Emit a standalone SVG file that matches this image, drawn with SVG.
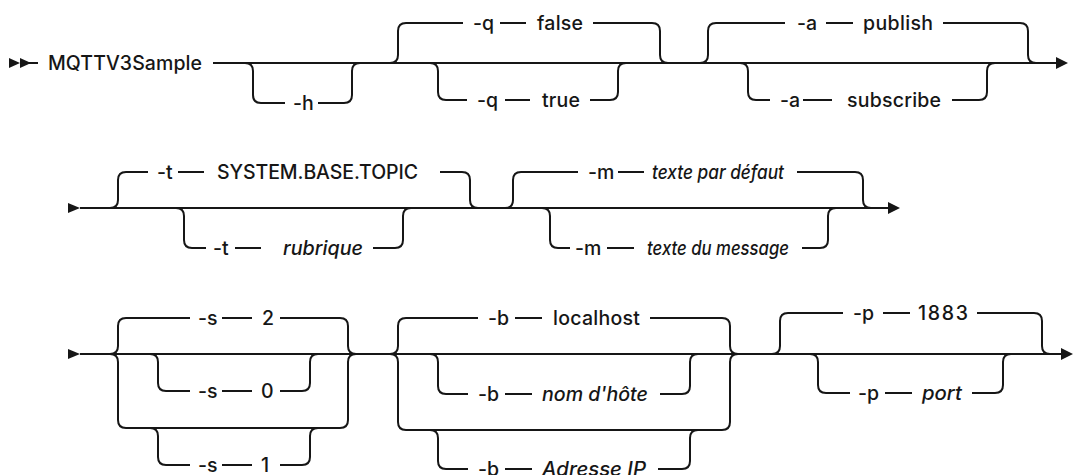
<svg xmlns="http://www.w3.org/2000/svg" width="1074" height="475" viewBox="0 0 1074 475">
<style>
.c{fill:none;stroke:#161616;stroke-width:2}
.a{fill:#161616;stroke:none}
text{font-family:Inter,"Liberation Sans",sans-serif;font-size:19.5px;font-weight:500;fill:#161616}
.i{font-style:italic}
</style>
<rect width="1074" height="475" fill="#ffffff"/>
<g id="connectors">
<!-- row 1 -->
<path class="c" d="M20,63 H38 M213,63 H1057"/>
<path class="c" d="M245,63 q8,0 8,8 V95 q0,8 8,8 H285 M318,103 H344 q8,0 8,-8 V71 q0,-8 8,-8"/>
<path class="c" d="M390,63 q8,0 8,-8 V31 q0,-8 8,-8 H463 M500,23 H526 M593,23 H652 q8,0 8,8 V55 q0,8 8,8"/>
<path class="c" d="M430,63 q8,0 8,8 V92 q0,8 8,8 H467 M505,100 H530 M590,100 H610 q8,0 8,-8 V71 q0,-8 8,-8"/>
<path class="c" d="M700,63 q8,0 8,-8 V31 q0,-8 8,-8 H785 M826,23 H853 M943,23 H1020 q8,0 8,8 V55 q0,8 8,8"/>
<path class="c" d="M740,63 q8,0 8,8 V92 q0,8 8,8 H770 M803,100 H832 M952,100 H979 q8,0 8,-8 V71 q0,-8 8,-8"/>
<polygon class="a" points="9,58 20,63 9,68"/>
<polygon class="a" points="20,58 31,63 20,68"/>
<polygon class="a" points="1056,57 1068,63 1056,69"/>
<!-- row 2 -->
<path class="c" d="M80,208 H889"/>
<path class="c" d="M110,208 q8,0 8,-8 V180 q0,-8 8,-8 H148 M178,172 H204 M440,172 H462 q8,0 8,8 V200 q0,8 8,8"/>
<path class="c" d="M176,208 q8,0 8,8 V240 q0,8 8,8 H206 M235,248 H261 M373,248 H395 q8,0 8,-8 V216 q0,-8 8,-8"/>
<path class="c" d="M505,208 q8,0 8,-8 V180 q0,-8 8,-8 H578 M618,172 H644 M797,172 H855 q8,0 8,8 V200 q0,8 8,8"/>
<path class="c" d="M542,208 q8,0 8,8 V240 q0,8 8,8 H570 M607,248 H634 M802,248 H820 q8,0 8,-8 V216 q0,-8 8,-8"/>
<polygon class="a" points="68,203 80,208 68,213"/>
<polygon class="a" points="888,202 900,208 888,214"/>
<!-- row 3 -->
<path class="c" d="M80,354 H1062"/>
<path class="c" d="M110,354 q8,0 8,-8 V326 q0,-8 8,-8 H190 M222,318 H252 M280,318 H340 q8,0 8,8 V346 q0,8 8,8"/>
<path class="c" d="M110,354 q8,0 8,8 V420 q0,8 8,8 H340 q8,0 8,-8 V362 q0,-8 8,-8"/>
<path class="c" d="M150,354 q8,0 8,8 V383 q0,8 8,8 H190 M222,391 H252 M280,391 H302 q8,0 8,-8 V362 q0,-8 8,-8"/>
<path class="c" d="M150,428 q8,0 8,8 V457 q0,8 8,8 H190 M222,465 H252 M280,465 H302 q8,0 8,-8 V436 q0,-8 8,-8"/>
<path class="c" d="M390,354 q8,0 8,-8 V326 q0,-8 8,-8 H478 M515,318 H542 M650,318 H722 q8,0 8,8 V346 q0,8 8,8"/>
<path class="c" d="M390,354 q8,0 8,8 V422 q0,8 8,8 H722 q8,0 8,-8 V362 q0,-8 8,-8"/>
<path class="c" d="M430,354 q8,0 8,8 V386 q0,8 8,8 H468 M505,394 H532 M660,394 H682 q8,0 8,-8 V362 q0,-8 8,-8"/>
<path class="c" d="M430,430 q8,0 8,8 V461 q0,8 8,8 H468 M505,469 H532 M658,469 H682 q8,0 8,-8 V438 q0,-8 8,-8"/>
<path class="c" d="M772,354 q8,0 8,-8 V321 q0,-8 8,-8 H843 M883,313 H910 M977,313 H1034 q8,0 8,8 V346 q0,8 8,8"/>
<path class="c" d="M810,354 q8,0 8,8 V385 q0,8 8,8 H850 M885,393 H912 M972,393 H995 q8,0 8,-8 V362 q0,-8 8,-8"/>
<polygon class="a" points="68,349 80,354 68,359"/>
<polygon class="a" points="1061,348 1073,354 1061,360"/>
</g>
<g id="cmd"><text x="48" y="70" textLength="154">MQTTV3Sample</text></g>
<g id="opt-h"><text x="293" y="110">-h</text></g>
<g id="opt-q-false"><text x="473" y="30">-q</text><text x="537" y="30" textLength="46">false</text></g>
<g id="opt-q-true"><text x="477" y="107">-q</text><text x="542" y="107" textLength="38">true</text></g>
<g id="opt-a-publish"><text x="797" y="30">-a</text><text x="863" y="30" textLength="70">publish</text></g>
<g id="opt-a-subscribe"><text x="780" y="107">-a</text><text x="847" y="107" textLength="94">subscribe</text></g>
<g id="opt-t-default"><text x="157" y="179">-t</text><text x="217" y="179" textLength="201">SYSTEM.BASE.TOPIC</text></g>
<g id="opt-t-topic"><text x="213" y="255">-t</text><text class="i" x="283" y="255" textLength="80" lengthAdjust="spacingAndGlyphs">rubrique</text></g>
<g id="opt-m-default"><text x="588" y="179">-m</text><text class="i" x="652" y="179" textLength="132" lengthAdjust="spacingAndGlyphs">texte par défaut</text></g>
<g id="opt-m-message"><text x="575" y="255">-m</text><text class="i" x="647" y="255" textLength="142" lengthAdjust="spacingAndGlyphs">texte du message</text></g>
<g id="opt-s-2"><text x="198" y="325">-s</text><text x="262" y="325">2</text></g>
<g id="opt-s-0"><text x="198" y="398">-s</text><text x="261" y="398">0</text></g>
<g id="opt-s-1"><text x="198" y="472">-s</text><text x="261" y="472">1</text></g>
<g id="opt-b-localhost"><text x="488" y="325">-b</text><text x="553" y="325" textLength="87">localhost</text></g>
<g id="opt-b-hostname"><text x="478" y="401">-b</text><text class="i" x="542" y="401" textLength="106" lengthAdjust="spacingAndGlyphs">nom d'hôte</text></g>
<g id="opt-b-ip"><text x="478" y="476">-b</text><text class="i" x="542" y="476" textLength="104" lengthAdjust="spacingAndGlyphs">Adresse IP</text></g>
<g id="opt-p-1883"><text x="853" y="320">-p</text><text x="918" y="320" textLength="50">1883</text></g>
<g id="opt-p-port"><text x="858" y="400">-p</text><text class="i" x="922" y="400" textLength="40" lengthAdjust="spacingAndGlyphs">port</text></g>
</svg>
